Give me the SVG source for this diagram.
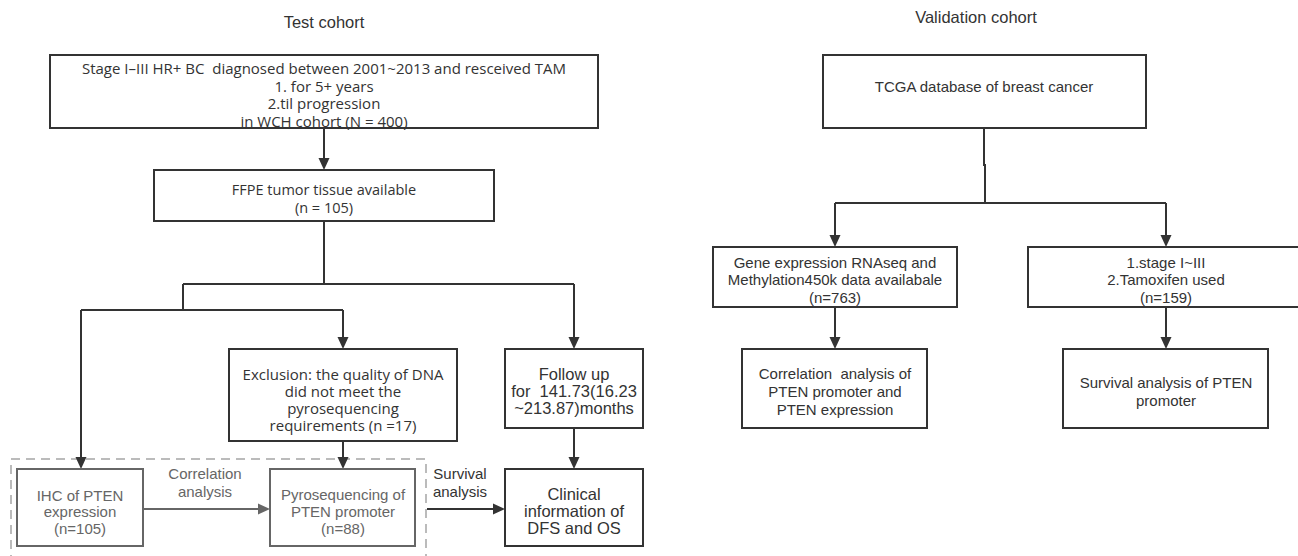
<svg xmlns="http://www.w3.org/2000/svg" width="1298" height="556" viewBox="0 0 1298 556">
<style>
.box{fill:#fff;stroke:#333;stroke-width:2}
.gbox{fill:#fff;stroke:#666;stroke-width:2}
.ln{fill:none;stroke:#333;stroke-width:2}
.gln{fill:none;stroke:#666;stroke-width:2}
.t{font-family:"Liberation Sans",Arial,sans-serif;font-size:15px;fill:#333;text-anchor:middle;dominant-baseline:central}
.b{font-size:16.5px}
.g{fill:#666}
.o{font-family:"Open Sans","Noto Sans",sans-serif;font-size:15px;fill:#333;text-anchor:middle;dominant-baseline:central}
.f{font-size:14.5px}
.h{font-family:"Liberation Sans",Arial,sans-serif;font-size:16.5px;fill:#333;text-anchor:middle;dominant-baseline:central}
</style>
<defs>
<marker id="arr" viewBox="0 0 12 12" markerWidth="12" markerHeight="12" refX="6" refY="6" orient="auto" markerUnits="userSpaceOnUse"><path d="M0,0.5 L12,6 L0,11.5 z" fill="#333"/></marker>
<marker id="garr" viewBox="0 0 12 12" markerWidth="12" markerHeight="12" refX="6" refY="6" orient="auto" markerUnits="userSpaceOnUse"><path d="M0,0.5 L12,6 L0,11.5 z" fill="#666"/></marker>
</defs>
<rect width="1298" height="556" fill="#fff"/>
<text class="h" x="324" y="22">Test cohort</text>
<text class="h" x="976" y="17">Validation cohort</text>
<g id="group-box">
<rect x="11" y="459" width="415" height="110" fill="none" stroke="#bbb" stroke-width="2" stroke-dasharray="9 6"/>
</g>
<g id="connectors">
<path class="ln" d="M324,128 V164" marker-end="url(#arr)"/>
<path class="ln" d="M324,221 V284 M183,284 H574"/>
<path class="ln" d="M574,284 V343" marker-end="url(#arr)"/>
<path class="ln" d="M183,284 V310 M81,310 H343"/>
<path class="ln" d="M343,310 V343" marker-end="url(#arr)"/>
<path class="ln" d="M81,310 V463" marker-end="url(#arr)"/>
<path class="ln" d="M343,441 V463" marker-end="url(#arr)"/>
<path class="ln" d="M574,428 V463" marker-end="url(#arr)"/>
<path class="gln" d="M143,509 H264" marker-end="url(#garr)"/>
<path class="ln" d="M427,509 H499" marker-end="url(#arr)"/>
<path class="ln" d="M984,128 V165 H985 V203 M835,203 H1166"/>
<path class="ln" d="M835,203 V241" marker-end="url(#arr)"/>
<path class="ln" d="M1166,203 V241" marker-end="url(#arr)"/>
<path class="ln" d="M835,307 V343" marker-end="url(#arr)"/>
<path class="ln" d="M1166,307 V343" marker-end="url(#arr)"/>
<text class="t g" x="205" y="473">Correlation</text>
<text class="t g" x="205" y="491">analysis</text>
<text class="t" x="460" y="473">Survival</text>
<text class="t" x="460" y="491">analysis</text>
</g>
<g id="n-top">
<rect class="box" x="50" y="55" width="548" height="73"/>
<text class="o" x="324" y="68" xml:space="preserve">Stage I–III HR+ BC  diagnosed between 2001~2013 and resceived TAM</text>
<text class="o" x="324" y="86">1. for 5+ years</text>
<text class="o" x="324" y="103">2.til progression</text>
<text class="o" x="324" y="121">in WCH cohort (N = 400)</text>
</g>
<g id="n-ffpe">
<rect class="box" x="154" y="170" width="340" height="51"/>
<text class="o f" x="324" y="189">FFPE tumor tissue available</text>
<text class="o f" x="324" y="207">(n = 105)</text>
</g>
<g id="n-exclusion">
<rect class="box" x="229" y="349" width="228" height="92"/>
<text class="o" x="343" y="374">Exclusion: the quality of DNA</text>
<text class="o" x="343" y="391">did not meet the</text>
<text class="o" x="343" y="408">pyrosequencing</text>
<text class="o" x="343" y="425">requirements (n =17)</text>
</g>
<g id="n-followup">
<rect class="box" x="505" y="349" width="138" height="79"/>
<text class="t b" x="574" y="374">Follow up</text>
<text class="t b" x="574" y="391" xml:space="preserve">for  141.73(16.23</text>
<text class="t b" x="574" y="408">~213.87)months</text>
</g>
<g id="n-ihc">
<rect class="gbox" x="17" y="469" width="126" height="77"/>
<text class="t g" x="80" y="495">IHC of PTEN</text>
<text class="t g" x="80" y="511">expression</text>
<text class="t g" x="80" y="528">(n=105)</text>
</g>
<g id="n-pyro">
<rect class="gbox" x="270" y="469" width="145" height="77"/>
<text class="t g" x="343" y="494">Pyrosequencing of</text>
<text class="t g" x="343" y="511">PTEN promoter</text>
<text class="t g" x="343" y="528">(n=88)</text>
</g>
<g id="n-clinical">
<rect class="box" x="505" y="469" width="138" height="77"/>
<text class="t b" x="574" y="494">Clinical</text>
<text class="t b" x="574" y="511">information of</text>
<text class="t b" x="574" y="528">DFS and OS</text>
</g>
<g id="n-tcga">
<rect class="box" x="823" y="55" width="323" height="73"/>
<text class="t" x="984" y="86">TCGA database of breast cancer</text>
</g>
<g id="n-gene">
<rect class="box" x="713" y="247" width="244" height="60"/>
<text class="t" x="835" y="262">Gene expression RNAseq and</text>
<text class="t" x="835" y="279">Methylation450k data availabale</text>
<text class="t" x="835" y="297">(n=763)</text>
</g>
<g id="n-stage">
<rect class="box" x="1028" y="247" width="280" height="60"/>
<text class="t" x="1166" y="262">1.stage I~III</text>
<text class="t" x="1166" y="279">2.Tamoxifen used</text>
<text class="t" x="1166" y="297">(n=159)</text>
</g>
<g id="n-corr">
<rect class="box" x="742" y="349" width="185" height="79"/>
<text class="t" x="835" y="373" xml:space="preserve">Correlation  analysis of</text>
<text class="t" x="835" y="391">PTEN promoter and</text>
<text class="t" x="835" y="409">PTEN expression</text>
</g>
<g id="n-surv">
<rect class="box" x="1063" y="349" width="205" height="79"/>
<text class="t" x="1166" y="382">Survival analysis of PTEN</text>
<text class="t" x="1166" y="400">promoter</text>
</g>
</svg>
